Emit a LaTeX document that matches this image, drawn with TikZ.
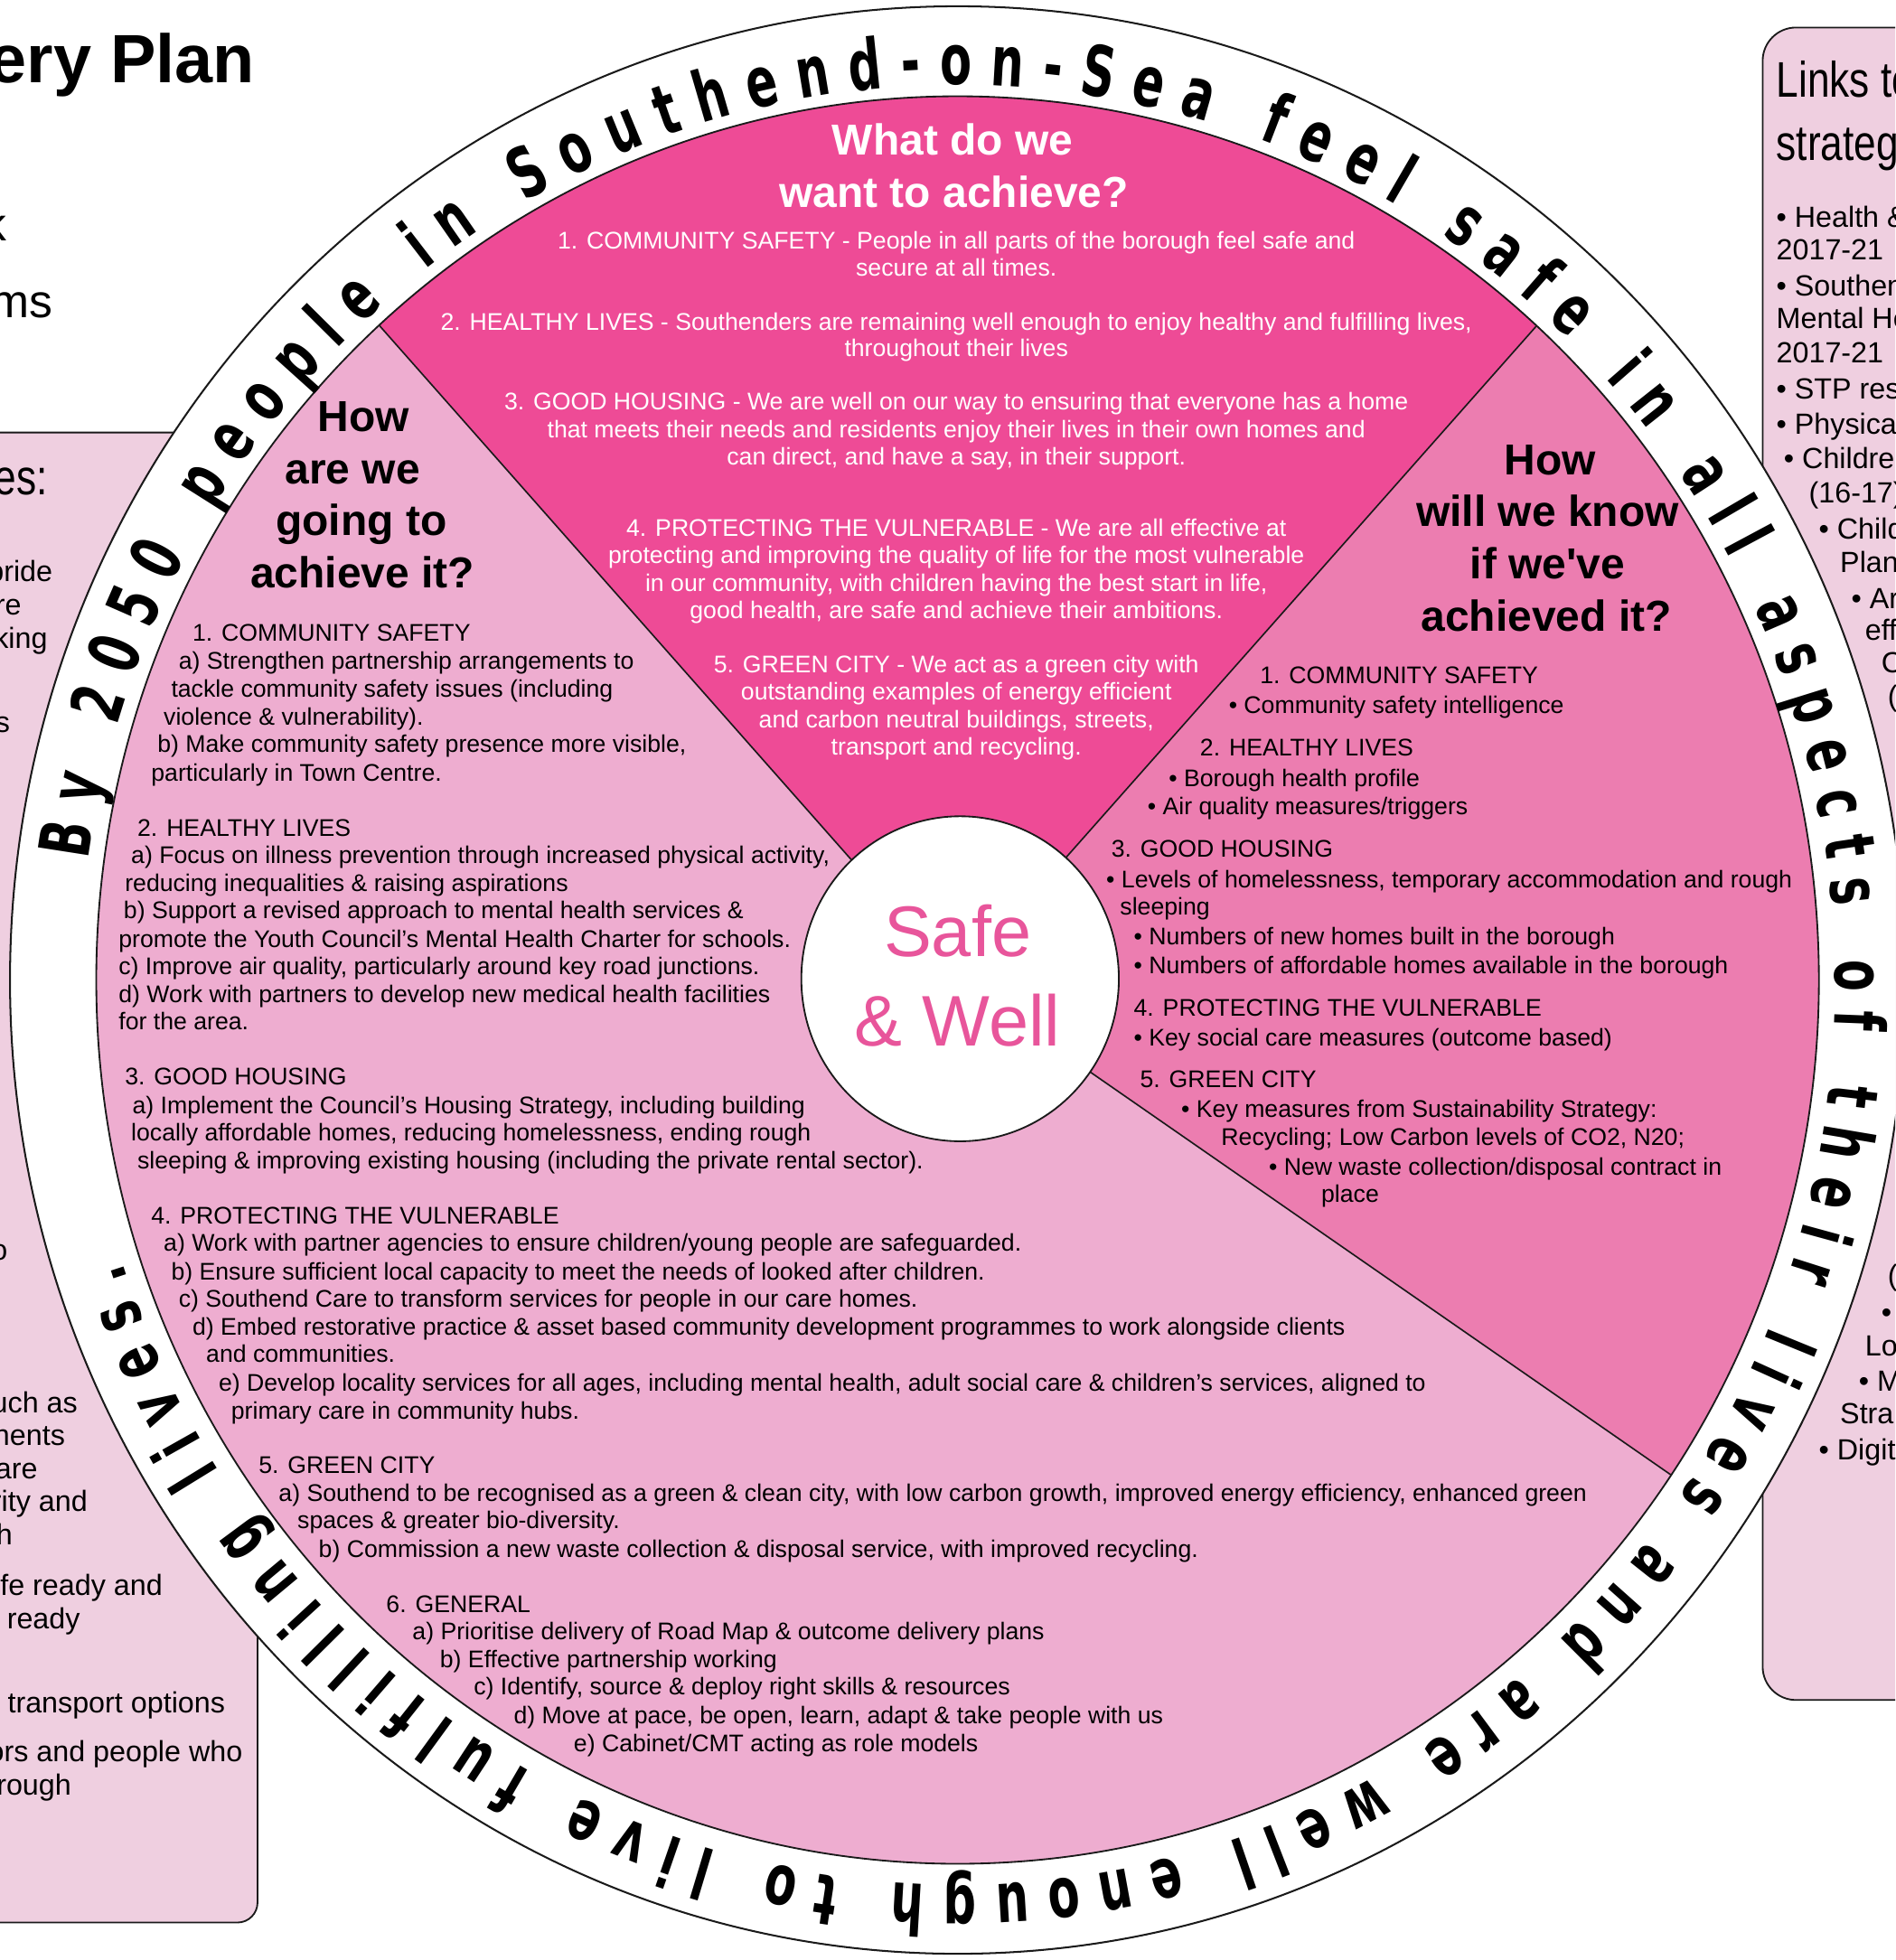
\documentclass[tikz,border=0pt]{standalone}
\usepackage{fontspec}
\setmainfont{Liberation Sans}
\newfontfamily\ringfont[FakeStretch=0.66]{DejaVu Sans Bold}
\newfontfamily\narrowfont[FakeStretch=0.8]{Liberation Sans}
\usetikzlibrary{decorations.text,calc}
\definecolor{pkdark}{HTML}{EE4B96}
\definecolor{pkmid}{HTML}{EC7DB0}
\definecolor{pklight}{HTML}{EEADD0}
\definecolor{pkpanel}{HTML}{EFCFE0}
\definecolor{pktext}{HTML}{E8559B}
\definecolor{edgecol}{HTML}{1A1A1A}
\newcommand\ringfmt{\ringfont\fontsize{42}{50}\selectfont}
\begin{document}
\begin{tikzpicture}[x=0.75pt,y=0.75pt,
  every node/.style={inner sep=0pt, outer sep=0pt},
  bodyl/.style={anchor=base west, font=\fontsize{14.45}{17}\selectfont},
  bodyw/.style={anchor=base, text=white, font=\fontsize{14.45}{17}\selectfont},
  headb/.style={anchor=base, font=\fontsize{26}{30}\selectfont\bfseries},
  panelr/.style={anchor=base east, font=\fontsize{17.5}{21}\selectfont},
  panell/.style={anchor=base west, font=\fontsize{17.5}{21}\selectfont},
  bigtxt/.style={font=\fontsize{28}{34}\selectfont},
  paneltitle/.style={font=\narrowfont\fontsize{30}{36}\selectfont},
  outl/.style={draw=edgecol, line width=1pt}
]
\useasboundingbox (0,0) rectangle (1516,-1568);
\fill[white] (0,0) rectangle (1516,-1568);
\clip (0,0) rectangle (1516,-1568);

% ---------- top-left title fragments
\node[anchor=base east, font=\fontsize{41}{49}\selectfont\bfseries] (title) at (204,-66) {ery Plan};
\node[anchor=base east, bigtxt] (tk) at (5,-193) {k};
\node[anchor=base east, bigtxt] (tms) at (42,-254) {ms};

% ---------- left panel
\draw[outl, fill=pkpanel, rounded corners=12pt] (-60,-346) rectangle (206,-1538);
\node[anchor=base east, paneltitle] (lp0) at (38,-396) {es:};
\foreach \x/\y/\txt [count=\i] in {
 42/465/{pride}, 17/492/{re}, 38/519/{king}, 8/586/{s}, 6/1008/{o},
 62/1130/{uch as}, 52/1156/{nents}, 30/1183/{are}, 70/1209/{rity and},
 10/1236/{h}, 130/1276/{ife ready and}, 64/1303/{ready},
 180/1370/{f transport options}, 194/1409/{ors and people who}, 57/1436/{rough}}
 \node[panelr] (lp\i) at (\x,-\y) {\txt};

% ---------- right panel
\draw[outl, fill=pkpanel, rounded corners=20pt] (1410,-22) rectangle (1600,-1360);
\node[anchor=base west, paneltitle] (rp0) at (1421,-78) {Links to};
\node[anchor=base west, paneltitle] (rp00) at (1421,-128) {strategie};
\foreach \x/\y/\txt [count=\i] in {
 1421/182/{• Health \&}, 1421/208/{2017-21}, 1421/237/{• Southen},
 1421/263/{Mental He}, 1421/290/{2017-21}, 1421/319/{• STP res},
 1421/347/{• Physica}, 1427/375/{• Childre}, 1447/402/{(16-17)},
 1455/431/{• Child}, 1472/458/{Plan}, 1481/487/{• Ar}, 1492/512/{eff},
 1505/538/{C}, 1510/565/{(}, 1510/1028/{(}, 1505/1058/{•}, 1492/1085/{Lo},
 1487/1113/{• M}, 1472/1139/{Stra}, 1455/1168/{• Digit}}
 \node[panell] (rp\i) at (\x,-\y) {\txt};

% ---------- wheel
\coordinate (C) at (766,-784);
\coordinate (ul) at (213,-158);
\coordinate (ur) at (1320,-158);
\coordinate (lr) at (1455,-1262);
\draw[outl, line width=1.1pt, fill=white] (C) ellipse [x radius=758, y radius=779];
\begin{scope}
  \clip (C) ellipse [x radius=689, y radius=707];
  \fill[pklight] (C) ellipse [x radius=689, y radius=707];
  \fill[pkdark] (C) -- (ul) -- (213,100) -- (1320,100) -- (ur) -- cycle;
  \fill[pkmid] (C) -- (ur) -- (1700,-158) -- (1700,-1400) -- (lr) -- cycle;
  \draw[outl, line width=0.9pt] (C) -- (ul) (C) -- (ur) (C) -- (lr);
\end{scope}
\draw[outl] (C) ellipse [x radius=689, y radius=707];

% centre
\draw[outl, fill=white] (768,-783) ellipse [x radius=127, y radius=130];
\node[anchor=base, text=pktext, font=\fontsize{43}{50}\selectfont] (sw1) at (766,-765) {Safe};
\node[anchor=base, text=pktext, font=\fontsize{43}{50}\selectfont] (sw2) at (766,-837) {\& Well};

% ---------- headings
\node[headb, text=white] (q1a) at (762,-124) {What do we};
\node[headb, text=white] (q1b) at (763,-166) {want to achieve?};
\node[headb] (q2a) at (291,-345) {How};
\node[headb] (q2b) at (282,-387) {are we};
\node[headb] (q2c) at (289,-428) {going to};
\node[headb] (q2d) at (290,-470) {achieve it?};
\node[headb] (q3a) at (1240,-380) {How};
\node[headb] (q3b) at (1238,-421) {will we know};
\node[headb] (q3c) at (1238,-463) {if we\textquotesingle ve};
\node[headb] (q3d) at (1237,-505) {achieved it?};

% ---------- top sector text
\foreach \y/\txt [count=\i] in {
 199/{1. COMMUNITY SAFETY - People in all parts of the borough feel safe and},
 221/{secure at all times.},
 264/{2. HEALTHY LIVES - Southenders are remaining well enough to enjoy healthy and fulfilling lives,},
 285/{throughout their lives},
 328/{3. GOOD HOUSING - We are well on our way to ensuring that everyone has a home},
 350/{that meets their needs and residents enjoy their lives in their own homes and},
 372/{can direct, and have a say, in their support.},
 429/{4. PROTECTING THE VULNERABLE - We are all effective at},
 451/{protecting and improving the quality of life for the most vulnerable},
 473/{in our community, with children having the best start in life,},
 495/{good health, are safe and achieve their ambitions.},
 538/{5. GREEN CITY - We act as a green city with},
 560/{outstanding examples of energy efficient},
 582/{and carbon neutral buildings, streets,},
 604/{transport and recycling.}}
 \node[bodyw] (w\i) at (765,-\y) {\txt};

% ---------- left sector text
\foreach \x/\y/\txt [count=\i] in {
 154/513/{1. COMMUNITY SAFETY},
 143/535/{a) Strengthen partnership arrangements to},
 137/558/{tackle community safety issues (including},
 131/580/{violence \& vulnerability).},
 126/602/{b) Make community safety presence more visible,},
 121/625/{particularly in Town Centre.},
 110/669/{2. HEALTHY LIVES},
 105/691/{a) Focus on illness prevention through increased physical activity,},
 100/713/{reducing inequalities \& raising aspirations},
 99/735/{b) Support a revised approach to mental health services \&},
 95/758/{promote the Youth Council’s Mental Health Charter for schools.},
 95/780/{c) Improve air quality, particularly around key road junctions.},
 95/802/{d) Work with partners to develop new medical health facilities},
 95/824/{for the area.},
 100/868/{3. GOOD HOUSING},
 106/891/{a) Implement the Council’s Housing Strategy, including building},
 105/913/{locally affordable homes, reducing homelessness, ending rough},
 110/935/{sleeping \& improving existing housing (including the private rental sector).},
 121/979/{4. PROTECTING THE VULNERABLE},
 131/1001/{a) Work with partner agencies to ensure children/young people are safeguarded.},
 137/1024/{b) Ensure sufficient local capacity to meet the needs of looked after children.},
 143/1046/{c) Southend Care to transform services for people in our care homes.},
 154/1068/{d) Embed restorative practice \& asset based community development programmes to work alongside clients},
 165/1090/{and communities.},
 175/1113/{e) Develop locality services for all ages, including mental health, adult social care \& children’s services, aligned to},
 185/1135/{primary care in community hubs.},
 207/1179/{5. GREEN CITY},
 223/1201/{a) Southend to be recognised as a green \& clean city, with low carbon growth, improved energy efficiency, enhanced green},
 238/1223/{spaces \& greater bio-diversity.},
 255/1246/{b) Commission a new waste collection \& disposal service, with improved recycling.},
 309/1290/{6. GENERAL},
 330/1312/{a) Prioritise delivery of Road Map \& outcome delivery plans},
 352/1334/{b) Effective partnership working},
 379/1356/{c) Identify, source \& deploy right skills \& resources},
 411/1379/{d) Move at pace, be open, learn, adapt \& take people with us},
 459/1401/{e) Cabinet/CMT acting as role models}}
 \node[bodyl] (l\i) at (\x,-\y) {\txt};

% ---------- right sector text
\foreach \x/\y/\txt [count=\i] in {
 1008/547/{1. COMMUNITY SAFETY},
 983/571/{• Community safety intelligence},
 960/605/{2. HEALTHY LIVES},
 935/629/{• Borough health profile},
 918/652/{• Air quality measures/triggers},
 889/686/{3. GOOD HOUSING},
 885/710/{• Levels of homelessness, temporary accommodation and rough},
 896/732/{sleeping},
 907/756/{• Numbers of new homes built in the borough},
 907/779/{• Numbers of affordable homes available in the borough},
 907/813/{4. PROTECTING THE VULNERABLE},
 907/837/{• Key social care measures (outcome based)},
 912/870/{5. GREEN CITY},
 945/894/{• Key measures from Sustainability Strategy:},
 977/916/{Recycling; Low Carbon levels of CO2, N20;},
 1015/940/{• New waste collection/disposal contract in},
 1057/962/{place}}
 \node[bodyl] (r\i) at (\x,-\y) {\txt};

% ---------- ring text
\coordinate (T0) at ($(766,-788)+(172:702 and 720)$);
\path[decorate, decoration={text along path, text align=fit to path,
  text={|\ringfmt|By 2050 people in Southend-on-Sea feel safe in all aspects of their lives and are well enough to live fulfilling lives.}}]
  (T0) arc[start angle=172, end angle=-162, x radius=702, y radius=720];
\end{tikzpicture}
\end{document}
